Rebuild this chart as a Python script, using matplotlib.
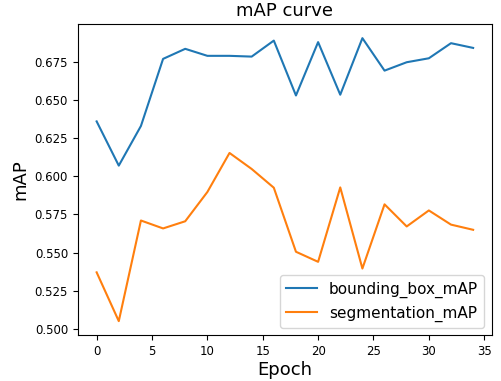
import matplotlib
matplotlib.use('Agg')
import matplotlib.pyplot as plt

epochs = [0, 2, 4, 6, 8, 10, 12, 14, 16, 18, 20, 22, 24, 26, 28, 30, 32, 34]
bbox_map = [0.636, 0.607, 0.633, 0.677, 0.6836, 0.679, 0.679, 0.6785, 0.689,
            0.653, 0.688, 0.6535, 0.6906, 0.6693, 0.6748, 0.6774, 0.6873, 0.6842]
seg_map = [0.537, 0.505, 0.571, 0.5658, 0.5705, 0.5897, 0.6153, 0.6048, 0.5925,
           0.5505, 0.5439, 0.5927, 0.5395, 0.5816, 0.5671, 0.5776, 0.5683, 0.5649]

fig = plt.figure(figsize=(5.02, 3.81), dpi=100)
ax = fig.add_axes([0.155, 0.12, 0.825, 0.817])
ax.plot(epochs, bbox_map, label='bounding_box_mAP')
ax.plot(epochs, seg_map, label='segmentation_mAP')
ax.set_title('mAP curve', fontsize=13)
ax.set_xlabel('Epoch', fontsize=13, labelpad=2)
ax.set_ylabel('mAP', fontsize=13)
ax.tick_params(labelsize=8.5)
ax.legend(loc='lower right', fontsize=11)
fig.savefig('out.png', dpi=100)
